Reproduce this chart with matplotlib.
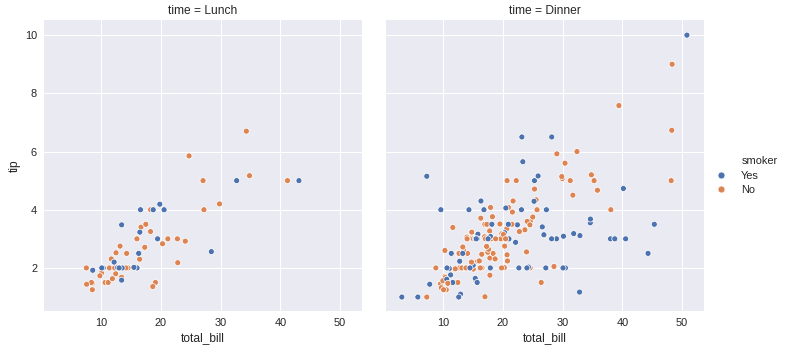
import matplotlib
matplotlib.use("Agg")
import matplotlib.pyplot as plt
from matplotlib.lines import Line2D

# tips data, split by meal time (order as in the dataset)
lunch_bill = [27.2, 22.76, 17.29, 19.44, 16.66, 10.07, 32.68, 15.98, 34.83, 13.03, 18.28, 24.71, 21.16,
              10.65, 12.43, 24.08, 11.69, 13.42, 14.26, 15.95, 12.48, 29.8, 8.52, 14.52, 11.38, 22.82,
              19.08, 20.27, 11.17, 12.26, 18.26, 8.51, 10.33, 14.15, 16.0, 13.16, 17.47, 34.3, 41.19,
              27.05, 16.43, 8.35, 18.64, 11.87, 9.78, 7.51,
              19.81, 28.44, 15.48, 16.58, 7.56, 10.34, 43.11, 13.0, 13.51, 18.71, 12.74, 13.0, 16.4,
              20.53, 16.47,
              12.16, 13.42, 8.58, 15.98, 13.42, 16.27, 10.09]
lunch_tip = [4.0, 3.0, 2.71, 3.0, 3.4, 1.83, 5.0, 2.03, 5.17, 2.0, 4.0, 5.85, 3.0,
             1.5, 1.8, 2.92, 2.31, 1.68, 2.5, 2.0, 2.52, 4.2, 1.48, 2.0, 2.0, 2.18,
             1.5, 2.83, 1.5, 2.0, 3.25, 1.25, 2.0, 2.0, 2.0, 2.75, 3.5, 6.7, 5.0,
             5.0, 2.3, 1.5, 1.36, 1.63, 1.73, 2.0,
             4.19, 2.56, 2.02, 4.0, 1.44, 2.0, 5.0, 2.0, 2.0, 4.0, 2.01, 2.0, 2.5,
             4.0, 3.23,
             2.2, 3.48, 1.92, 3.0, 1.58, 2.5, 2.0]
lunch_smoker = ("No No No Yes No No Yes No No No No No No "
                "No No No No No No No No No No No No No No No No No No No No No Yes "
                "No No No No No No No No No No No "
                "Yes Yes Yes Yes No Yes Yes Yes Yes Yes Yes Yes Yes Yes Yes "
                "Yes Yes Yes No Yes Yes Yes").split()

dinner_bill = [16.99, 10.34, 21.01, 23.68, 24.59, 25.29, 8.77, 26.88, 15.04, 14.78, 10.27, 35.26,
               15.42, 18.43, 14.83, 21.58, 10.33, 16.29, 16.97, 20.65, 17.92, 20.29, 15.77, 39.42,
               19.82, 17.81, 13.37, 12.69, 21.7, 19.65, 9.55, 18.35, 15.06, 20.69, 17.78, 24.06,
               16.31, 16.93, 18.69, 31.27, 16.04, 17.46, 13.94, 9.68, 30.4, 18.29, 22.23, 32.4,
               28.55, 18.04, 12.54, 10.29, 34.81, 9.94, 25.56, 19.49, 38.01, 26.41, 11.24, 48.27,
               20.29, 13.81, 11.02, 18.29, 17.59, 20.08, 16.45, 3.07, 20.23, 15.01, 12.02, 17.07,
               26.86, 25.28, 14.73, 10.51, 17.92,
               28.97, 22.49, 5.75, 16.32, 22.75, 40.17, 27.28, 12.03, 21.01, 12.46, 11.35, 15.38,
               44.3, 22.42, 20.92, 15.36, 20.49, 25.21, 18.24, 14.31, 14.0, 7.25, 38.07, 23.95,
               25.71, 17.31, 29.93,
               14.07, 13.13, 17.26, 24.55, 19.77, 29.85, 48.17, 25.0, 13.39, 16.49, 21.5, 12.66,
               16.21, 13.81, 17.51, 24.52, 20.76, 31.71, 10.59, 10.63, 50.81, 15.81, 7.25, 31.85,
               16.82, 32.9, 17.89, 14.48, 9.6, 34.63, 34.65, 23.33, 45.35, 23.17, 40.55, 20.69,
               20.9, 30.46, 18.15, 23.1, 15.69,
               26.59, 38.73, 24.27, 12.76, 30.06, 25.89, 48.33, 13.27, 28.17, 12.9, 28.15, 11.59,
               7.74, 30.14,
               20.45, 13.28, 22.12, 24.01, 15.69, 11.61, 10.77, 15.53, 10.07, 12.6, 32.83, 35.83,
               29.03, 27.18, 22.67, 17.82, 18.78]
dinner_tip = [1.01, 1.66, 3.5, 3.31, 3.61, 4.71, 2.0, 3.12, 1.96, 3.23, 1.71, 5.0,
              1.57, 3.0, 3.02, 3.92, 1.67, 3.71, 3.5, 3.35, 4.08, 2.75, 2.23, 7.58,
              3.18, 2.34, 2.0, 2.0, 4.3, 3.0, 1.45, 2.5, 3.0, 2.45, 3.27, 3.6,
              2.0, 3.07, 2.31, 5.0, 2.24, 2.54, 3.06, 1.32, 5.6, 3.0, 5.0, 6.0,
              2.05, 3.0, 2.5, 2.6, 5.2, 1.56, 4.34, 3.51, 3.0, 1.5, 1.76, 6.73,
              3.21, 2.0, 1.98, 3.76, 2.64, 3.15, 2.47, 1.0, 2.01, 2.09, 1.97, 3.0,
              3.14, 5.0, 2.2, 1.25, 3.08,
              3.0, 3.5, 1.0, 4.3, 3.25, 4.73, 4.0, 1.5, 3.0, 1.5, 2.5, 3.0,
              2.5, 3.48, 4.08, 1.64, 4.06, 4.29, 3.76, 4.0, 3.0, 1.0, 4.0, 2.55,
              4.0, 3.5, 5.07,
              2.5, 2.0, 2.74, 2.0, 2.0, 5.14, 5.0, 3.75, 2.61, 2.0, 3.5, 2.5,
              2.0, 2.0, 3.0, 3.48, 2.24, 4.5, 1.61, 2.0, 10.0, 3.16, 5.15, 3.18,
              4.0, 3.11, 2.0, 2.0, 4.0, 3.55, 3.68, 5.65, 3.5, 6.5, 3.0, 5.0,
              3.5, 2.0, 3.5, 4.0, 1.5,
              3.41, 3.0, 2.03, 2.23, 2.0, 5.16, 9.0, 2.5, 6.5, 1.1, 3.0, 1.5,
              1.44, 3.09,
              3.0, 2.72, 2.88, 2.0, 3.0, 3.39, 1.47, 3.0, 1.25, 1.0, 1.17, 4.67,
              5.92, 2.0, 2.0, 1.75, 3.0]
dinner_smoker = ("No " * 56 +
                 "Yes No Yes No Yes Yes Yes Yes No No No Yes No Yes No No Yes Yes No No Yes "
                 "Yes No Yes Yes No Yes Yes Yes Yes No Yes Yes "
                 "Yes Yes No Yes Yes Yes No Yes No No No No No No No " +
                 "No " * 14 + "Yes No No No " + "Yes " * 17 + "No " + "Yes " * 5 +
                 "Yes " * 6 + "No " + "Yes " * 7 +
                 "No No Yes Yes Yes No No Yes No Yes Yes No No Yes Yes No No").split()

smoker_levels = ["Yes", "No"]
palette = {"Yes": "#4c72b0", "No": "#dd8452"}

text_color = "#262626"
plt.rcParams["font.family"] = ["Liberation Sans", "DejaVu Sans"]
plt.rcParams["text.color"] = text_color
plt.rcParams["axes.labelcolor"] = text_color
plt.rcParams["xtick.color"] = text_color
plt.rcParams["ytick.color"] = text_color

W, H = 788, 352
fig = plt.figure(figsize=(W / 72, H / 72), dpi=72)
ax1 = fig.add_axes([44 / W, 1 - 311 / H, 318 / W, 291 / H])
ax2 = fig.add_axes([386 / W, 1 - 311 / H, 318 / W, 291 / H], sharex=ax1, sharey=ax1)

panels = [(ax1, "Lunch", lunch_bill, lunch_tip, lunch_smoker),
          (ax2, "Dinner", dinner_bill, dinner_tip, dinner_smoker)]

for ax, name, bill, tip, smoker in panels:
    ax.set_facecolor("#eaeaf2")
    ax.grid(True, color="white", linewidth=1)
    ax.set_axisbelow(True)
    for sp in ax.spines.values():
        sp.set_visible(False)
    ax.scatter(bill, tip, c=[palette[s] for s in smoker], s=36,
               edgecolors="white", linewidths=0.75, zorder=3)
    ax.set_title("time = " + name, fontsize=12, color=text_color)
    ax.set_xlabel("total_bill", fontsize=12)
    ax.tick_params(length=0, pad=7, labelsize=11)

ax1.set_xlim(0.42, 53.67)
ax1.set_ylim(0.52, 10.52)
ax1.set_xticks([10, 20, 30, 40, 50])
ax1.set_yticks([2, 4, 6, 8, 10])
ax1.set_ylabel("tip", fontsize=12)
ax2.tick_params(labelleft=False)

# legend: variable name as a blank first entry, like old seaborn
handles = [Line2D([], [], linestyle="", marker="")]
handles += [Line2D([], [], marker="o", linestyle="", markersize=7,
                   markerfacecolor=palette[s], markeredgecolor="white", markeredgewidth=0.75)
            for s in smoker_levels]
fig.legend(handles, ["smoker"] + smoker_levels, loc="center left",
           bbox_to_anchor=(700 / W, 1 - 175.5 / H), frameon=False,
           fontsize=11, handlelength=2, handletextpad=0.85, labelspacing=0.4)

fig.savefig("out.png", dpi=72)
